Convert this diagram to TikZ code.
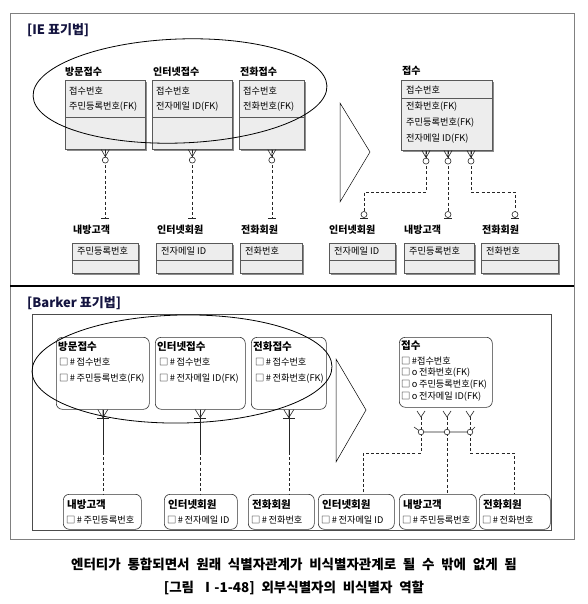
\documentclass[tikz,border=0pt]{standalone}
\usepackage{fontspec}
\setmainfont{Noto Sans CJK KR}
\usetikzlibrary{shadows}
\definecolor{navy}{rgb}{0.08,0.08,0.25}
\newcommand\capfont{\fontsize{13.5}{15}\selectfont\bfseries\spaceskip=0.5em\relax}
\begin{document}
\begin{tikzpicture}[x=1pt,y=-1pt,
  lab/.style={anchor=west, inner sep=0, font=\fontsize{10}{11}\selectfont\bfseries},
  blab/.style={anchor=west, inner sep=0, font=\fontsize{10.5}{11}\selectfont\bfseries},
  att/.style={anchor=west, inner sep=0, font=\fontsize{9.2}{10}\selectfont},
  ie/.style={draw=black!65, fill=black!7, line width=0.6pt, anchor=north west, inner sep=0,
     drop shadow={shadow xshift=1.8pt, shadow yshift=-1.8pt, fill=black!45, opacity=1}},
  iediv/.style={draw=black!65, line width=0.6pt},
  bk/.style={draw=black!80, fill=white, line width=0.6pt, rounded corners=6pt, anchor=north west, inner sep=0},
  conn/.style={line width=0.6pt, black!85},
  dsh/.style={conn, dash pattern=on 3pt off 2.2pt},
  sym/.style={line width=0.6pt, black!85},
  iemany/.pic={\draw[sym] (-4,0)--(0,7) (4,0)--(0,7) (0,0)--(0,7); \draw[sym,fill=white] (0,10.5) circle (3pt);},
  ieone/.pic={\draw[sym] (-4,0)--(4,0);},
  iezo/.pic={\draw[sym,fill=white] (0,-3.5) circle (3pt); \draw[sym] (-4,0)--(4,0);},
  bkuid/.pic={\draw[sym] (-5,0)--(0,8)--(5,0) (0,0)--(0,8); \draw[sym] (-6,9)--(6,9);},
  bky/.pic={\draw[sym] (-4,0)--(0,6)--(4,0);},
  ttl/.style={anchor=west, inner sep=0, text=navy, font=\fontsize{13}{14}\selectfont\bfseries},
  captext/.style={inner sep=0, font=\capfont}
]
\useasboundingbox (0,0) rectangle (587,604);
\fill[white] (0,0) rectangle (587,604);

% frames
\draw[black!50, line width=0.7pt] (10,13) rectangle (574,539);
\draw[black, line width=1.3pt] (10,286) -- (574,286);
\draw[black!70, line width=0.6pt] (32,314) rectangle (551,530);

% ================= IE =================
\node[ttl] (t1) at (27,30) {[IE 표기법]};

% parents
\node[lab] (lv) at (65,72) {방문접수};
\node[ie, minimum width=80pt, minimum height=69pt] (bv) at (65,80) {};
\draw[iediv] (bv.west |- 0,117) -- (bv.east |- 0,117);
\node[att] at (69,91) {접수번호};
\node[att] at (69,107) {주민등록번호(FK)};

\node[lab] (li) at (153,72) {인터넷접수};
\node[ie, minimum width=80pt, minimum height=69pt] (bi) at (152,80) {};
\draw[iediv] (bi.west |- 0,117) -- (bi.east |- 0,117);
\node[att] at (156,91) {접수번호};
\node[att] at (156,107) {전자메일 ID(FK)};

\node[lab] (lp) at (240,72) {전화접수};
\node[ie, minimum width=65pt, minimum height=69pt] (bp) at (239,80) {};
\draw[iediv] (bp.west |- 0,117) -- (bp.east |- 0,117);
\node[att] at (243,91) {접수번호};
\node[att] at (243,107) {전화번호(FK)};

\node[lab] (lj) at (402,71) {접수};
\node[ie, minimum width=91pt, minimum height=70pt] (bj) at (401,80) {};
\draw[iediv] (bj.west |- 0,98) -- (bj.east |- 0,98);
\node[att] at (406,90) {접수번호};
\node[att] at (406,107) {전화번호(FK)};
\node[att] at (406,123) {주민등록번호(FK)};
\node[att] at (406,139) {전자메일 ID(FK)};

% children
\node[lab] (lcv1) at (73,230) {내방고객};
\node[ie, minimum width=66pt, minimum height=30pt] (cv1) at (72,243) {};
\draw[iediv] (cv1.west |- 0,260) -- (cv1.east |- 0,260);
\node[att] at (77,251) {주민등록번호};

\node[lab] (lci1) at (157,230) {인터넷회원};
\node[ie, minimum width=76pt, minimum height=30pt] (ci1) at (156,243) {};
\draw[iediv] (ci1.west |- 0,260) -- (ci1.east |- 0,260);
\node[att] at (161,251) {전자메일 ID};

\node[lab] (lcp1) at (241,230) {전화회원};
\node[ie, minimum width=62pt, minimum height=30pt] (cp1) at (240,243) {};
\draw[iediv] (cp1.west |- 0,260) -- (cp1.east |- 0,260);
\node[att] at (245,251) {전화번호};

\node[lab] (lci2) at (329,230) {인터넷회원};
\node[ie, minimum width=66pt, minimum height=30pt] (ci2) at (329,243) {};
\draw[iediv] (ci2.west |- 0,260) -- (ci2.east |- 0,260);
\node[att] at (334,251) {전자메일 ID};

\node[lab] (lcv2) at (404,230) {내방고객};
\node[ie, minimum width=70pt, minimum height=30pt] (cv2) at (404,243) {};
\draw[iediv] (cv2.west |- 0,260) -- (cv2.east |- 0,260);
\node[att] at (409,251) {주민등록번호};

\node[lab] (lcp2) at (482,230) {전화회원};
\node[ie, minimum width=77pt, minimum height=30pt] (cp2) at (481,243) {};
\draw[iediv] (cp2.west |- 0,260) -- (cp2.east |- 0,260);
\node[att] at (486,251) {전화번호};

% IE ellipse and triangle
\draw[line width=0.8pt, rotate around={2:(180,91)}] (180,91) ellipse [x radius=147, y radius=52];
\draw[line width=0.5pt] (340,103) -- (370,152) -- (340,202) -- cycle;

% IE connectors
\coordinate (e1) at (bv.south |- 0,218);
\coordinate (e2) at (bi.south |- 0,218);
\coordinate (e3) at (bp.south |- 0,218);
\draw[dsh] (bv.south) -- (e1);
\draw[dsh] (bi.south) -- (e2);
\draw[dsh] (bp.south) -- (e3);
\pic at (bv.south) {iemany};
\pic at (bi.south) {iemany};
\pic at (bp.south) {iemany};
\pic at (e1) {ieone};
\pic at (e2) {ieone};
\pic at (e3) {ieone};

\coordinate (s1) at (bj.south -| 426,0);
\coordinate (s2) at (bj.south -| 448,0);
\coordinate (s3) at (bj.south -| 471,0);
\coordinate (f1) at (364,218);
\coordinate (f2) at (448,218);
\coordinate (f3) at (515,218);
\draw[dsh] (s1) -- (426,192) -| (f1);
\draw[dsh] (s2) -- (f2);
\draw[dsh] (s3) -- (471,192) -| (f3);
\pic at (s1) {iemany};
\pic at (s2) {iemany};
\pic at (s3) {iemany};
\pic at (f1) {iezo};
\pic at (f2) {iezo};
\pic at (f3) {iezo};

% ================= Barker =================
\node[ttl] (t2) at (27,303) {[Barker 표기법]};

\node[bk, minimum width=93pt, minimum height=72pt] (av) at (56,337) {};
\node[blab] at (58,347) {방문접수};
\node[att] at (59,362) {□\,\#\,접수번호};
\node[att] at (59,379) {□\,\#\,주민등록번호(FK)};

\node[bk, minimum width=90pt, minimum height=72pt] (ai) at (155,337) {};
\node[blab] at (157,347) {인터넷접수};
\node[att] at (159,362) {□\,\#\,접수번호};
\node[att] at (159,379) {□\,\#\,전자메일 ID(FK)};

\node[bk, minimum width=75pt, minimum height=72pt] (ap) at (251,337) {};
\node[blab] at (253,347) {전화접수};
\node[att] at (255,362) {□\,\#\,접수번호};
\node[att] at (255,379) {□\,\#\,전화번호(FK)};

\node[bk, minimum width=93pt, minimum height=70pt] (aj) at (399,337) {};
\node[blab] at (401,346) {접수};
\node[att] at (401,361) {□\,\#접수번호};
\node[att] at (401,373) {□\,o\,전화번호(FK)};
\node[att] at (401,385) {□\,o\,주민등록번호(FK)};
\node[att] at (401,397) {□\,o\,전자메일 ID(FK)};

% Barker children
\node[bk, minimum width=78pt, minimum height=35pt] (dv1) at (63,494) {};
\node[blab] at (67,505) {내방고객};
\node[att] at (66,520) {□\,\#\,주민등록번호};

\node[bk, minimum width=73pt, minimum height=35pt] (di1) at (164,494) {};
\node[blab] at (168,505) {인터넷회원};
\node[att] at (167,520) {□\,\#\,전자메일 ID};

\node[bk, minimum width=66pt, minimum height=35pt] (dp1) at (248,494) {};
\node[blab] at (252,505) {전화회원};
\node[att] at (251,520) {□\,\#\,전화번호};

\node[bk, minimum width=76pt, minimum height=35pt] (di2) at (318,494) {};
\node[blab] at (322,505) {인터넷회원};
\node[att] at (321,520) {□\,\#\,전자메일 ID};

\node[bk, minimum width=77pt, minimum height=35pt] (dv2) at (399,494) {};
\node[blab] at (403,505) {내방고객};
\node[att] at (402,520) {□\,\#\,주민등록번호};

\node[bk, minimum width=71pt, minimum height=35pt] (dp2) at (479,494) {};
\node[blab] at (483,505) {전화회원};
\node[att] at (482,520) {□\,\#\,전화번호};

% Barker ellipse and triangle
\draw[line width=0.8pt, rotate around={1:(182,369)}] (182,369) ellipse [x radius=150, y radius=54];
\draw[line width=0.5pt] (336,359) -- (366,410) -- (336,462) -- cycle;

% Barker connectors left
\coordinate (m1) at (av.south |- 0,452);
\coordinate (m2) at (ai.south |- 0,452);
\coordinate (m3) at (ap.south |- 0,452);
\draw[conn] (av.south) -- (m1);
\draw[dsh] (m1) -- (av.south |- dv1.north);
\draw[conn] (ai.south) -- (m2);
\draw[dsh] (m2) -- (ai.south |- di1.north);
\draw[conn] (ap.south) -- (m3);
\draw[dsh] (m3) -- (ap.south |- dp1.north);
\pic at (av.south) {bkuid};
\pic at (ai.south) {bkuid};
\pic at (ap.south) {bkuid};

% Barker connectors right
\coordinate (y1) at (421,411);
\coordinate (y2) at (447,411);
\coordinate (y3) at (470,411);
\coordinate (o1) at (421,432);
\coordinate (o2) at (447,432);
\coordinate (o3) at (470,432);
\draw[dsh] (421,417) -- (o1) -- (421,453) -| (di2.north -| 363,0);
\draw[dsh] (447,417) -- (o2) -- (dv2.north -| 447,0);
\draw[dsh] (470,417) -- (o3) -- (470,453) -| (dp2.north -| 514,0);
\pic at (y1) {bky};
\pic at (y2) {bky};
\pic at (y3) {bky};
\draw[conn] (414,427) -- (o1) -- (o3) -- (475,427);
\foreach \o in {o1,o2,o3} \draw[sym, fill=white] (\o) circle (2.8pt);

% captions
\node[captext] (c1) at (294,564) {엔터티가 통합되면서 원래 식별자관계가 비식별자관계로 될 수 밖에 없게 됨};
\node[captext] (c2) at (294,588) {[그림 Ⅰ-1-48] 외부식별자의 비식별자 역할};
\end{tikzpicture}
\end{document}
